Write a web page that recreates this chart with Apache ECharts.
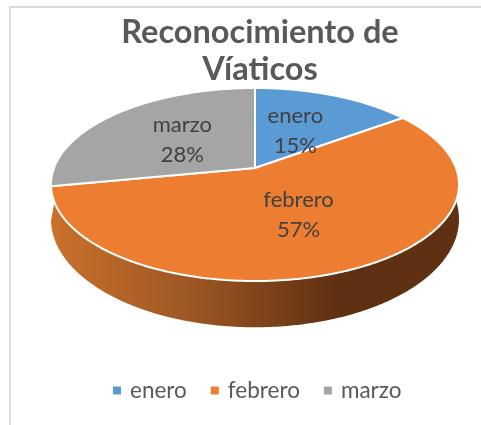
<!DOCTYPE html>
<html><head><meta charset="utf-8">
<style>html,body{margin:0;padding:0;background:#fff}#c{width:481px;height:425px}</style>
<script src="https://cdn.jsdelivr.net/npm/echarts@6/dist/echarts.min.js"></script>
</head><body><div id="c"></div>
<script>
var titleText = 'Reconocimiento de\nVíaticos';
var categories = ['enero', 'febrero', 'marzo'];
var values = [15, 57, 28];
var colors = ['#5b9bd5', '#ed7d31', '#a5a5a5'];
var labelReach = [0.51, 0.46, 0.52];

var total = values.reduce(function (a, b) { return a + b; }, 0);
var FONT = 'Lato, "Open Sans", sans-serif';
// Perspective ellipse of the pie: apex, radii, tilt
var P = { cx: 255, cy: 168, rx: 201, ry: 93.7, k: 0.171, wallCy: 200.6, wallRy: 105 };

function project(deg, cy, ry) {
  var t = deg * Math.PI / 180, u = Math.sin(t), v = Math.cos(t), w = 1 + P.k * v;
  return [P.cx + P.rx * u / w, cy - ry * v / w];
}
function arc(from, to, cy, ry) {
  var pts = [], n = Math.max(2, Math.ceil(Math.abs(to - from) * 2));
  for (var i = 0; i <= n; i++) pts.push(project(from + (to - from) * i / n, cy, ry));
  return pts;
}
function startAngle(i) {
  var s = 0; for (var j = 0; j < i; j++) s += values[j];
  return s / total * 360;
}
var wallGradient = {
  type: 'linear', global: true, x: 52, y: 0, x2: 335, y2: 0,
  colorStops: [{ offset: 0, color: '#c9712c' }, { offset: 0.5, color: '#9c5623' }, { offset: 1, color: '#5f3012' }]
};

function renderSlice(i) {
  return function () {
    var a0 = startAngle(i), a1 = a0 + values[i] / total * 360, kids = [];
    if (a0 < 180 && a1 > 180) {
      var wall = arc(Math.max(a0, 110), Math.min(a1, 250), P.cy, P.ry)
        .concat(arc(Math.min(a1, 270), Math.max(a0, 90), P.wallCy, P.wallRy));
      kids.push({ type: 'polygon', shape: { points: wall }, style: { fill: wallGradient }, z2: 1 });
    }
    var top = [[P.cx, P.cy]].concat(arc(a0, a1, P.cy, P.ry));
    kids.push({ type: 'polygon', shape: { points: top }, style: { fill: colors[i], stroke: '#fff', lineWidth: 2, lineJoin: 'round' }, z2: 2 });
    var t = (a0 + a1) / 2 * Math.PI / 180, f = labelReach[i], w = 1 + P.k * Math.cos(t);
    kids.push({
      type: 'text', z2: 10,
      x: P.cx + P.rx * Math.sin(t) * f / w, y: P.cy - P.ry * Math.cos(t) * f / w,
      style: {
        text: categories[i] + '\n' + Math.round(values[i] / total * 100) + '%',
        fill: '#404040', font: '22px ' + FONT, lineHeight: 30, align: 'center', verticalAlign: 'middle'
      }
    });
    return { type: 'group', children: kids };
  };
}

var chart = echarts.init(document.getElementById('c'), null, { renderer: 'canvas' });
chart.setOption({
  animation: false,
  backgroundColor: '#fff',
  title: {
    text: titleText, left: 255, top: 9, textAlign: 'center',
    textStyle: { fontFamily: FONT, fontWeight: 'bold', fontSize: 32.5, lineHeight: 37, color: '#595959' }
  },
  legend: {
    data: categories, left: 108, top: 374, icon: 'rect', itemWidth: 8, itemHeight: 8, itemGap: 24,
    textStyle: { fontFamily: FONT, fontSize: 22.5, color: '#595959', padding: [0, 0, 0, 4] }
  },
  graphic: [{
    type: 'polyline', silent: true,
    shape: { points: [[10, 425], [10, 7], [481, 7]] },
    style: { stroke: '#dcdcdc', lineWidth: 2, fill: null }
  }],
  series: categories.map(function (name, i) {
    return {
      type: 'custom', name: name, coordinateSystem: 'none',
      itemStyle: { color: colors[i] }, data: [values[i]],
      renderItem: renderSlice(i), silent: true
    };
  })
});
</script></body></html>
